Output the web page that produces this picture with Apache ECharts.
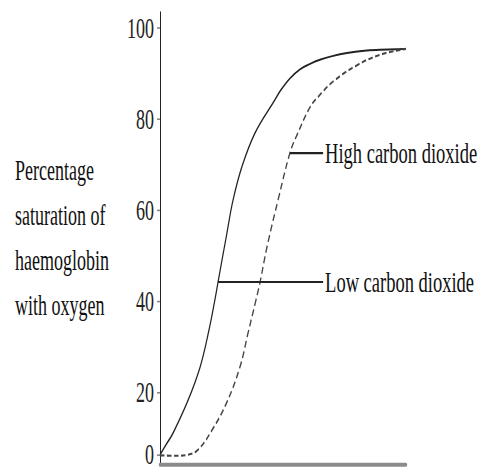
<!DOCTYPE html>
<html>
<head>
<meta charset="utf-8">
<script src="https://cdn.jsdelivr.net/npm/echarts@6/dist/echarts.min.js"></script>
<style>
  html, body { margin: 0; padding: 0; background: #fff; width: 485px; height: 469px; overflow: hidden; }
  #wrap { position: relative; width: 485px; height: 469px; overflow: hidden; }
  /* the reference is a vertically stretched scan, so stretch the drawing the same way */
  #chart { position: absolute; left: 0; top: 0; width: 485px; height: 300px; transform: scaleY(1.6); transform-origin: 0 0; }
</style>
</head>
<body>
<div id="wrap"><div id="chart"></div></div>
<script>
// level on the drawn axis where the "0" tick sits (the bottom of the picture is squeezed)
const ZERO_LEVEL = 6.3;

// [pO2 (arbitrary, no labels), % saturation]
const lowCo2Curve = [
  [0, 6.2], [2.4, 8.4], [5.3, 11.0], [11.4, 18.2], [16.3, 25.5], [19.9, 33.6],
  [22.4, 40.5], [23.6, 44.2], [27.2, 54.9], [29.7, 62.2], [33.3, 69.5],
  [38.6, 76.9], [46.7, 84.2], [48.8, 86.1], [52.8, 88.9], [56.9, 90.9],
  [61.0, 92.1], [65.0, 93.0], [70.0, 93.8], [76.0, 94.5], [83.0, 95.0],
  [89.4, 95.2], [100, 95.4]
];
const highCo2Curve = [
  [0, 6.1], [6.1, 6.0], [11.0, 6.2], [15.4, 7.3], [21.1, 11.6], [27.2, 17.8],
  [32.5, 25.5], [35.8, 33.0], [39.0, 40.2], [40.7, 44.2], [43.5, 51.9],
  [48.0, 62.2], [52.8, 72.5], [55.7, 76.5], [61.0, 82.6], [64.2, 84.8],
  [70.3, 88.2], [80.1, 91.8], [89.4, 94.1], [100, 95.4]
];

// leader lines from the curves to their labels
const highLabelLine = [[52.8, 72.5], [66.3, 72.5]];
const lowLabelLine = [[23.6, 44.2], [66.3, 44.2]];
const curveLabels = ['High carbon dioxide', 'Low carbon dioxide'];

const yTickValues = [ZERO_LEVEL, 20, 40, 60, 80, 100];
const yTickLabels = ['0', '20', '40', '60', '80', '100'];
const yAxisTitle = ['Percentage', 'saturation of', 'haemoglobin', 'with oxygen'];

(() => {
  const font = '"Liberation Serif", "DejaVu Serif", serif';
  const chart = echarts.init(document.getElementById('chart'), null, {renderer: 'svg'});

  function leader(data, text) {
    return {
      type: 'line',
      data: data,
      symbol: 'none',
      silent: true,
      lineStyle: {color: '#222', width: 1.3},
      endLabel: {
        show: true,
        formatter: text,
        distance: 2,
        fontFamily: font,
        fontSize: 18.5,
        color: '#111'
      }
    };
  }

  const option = {
    animation: false,
    backgroundColor: '#fff',
    grid: {
      left: 160,
      right: 79,
      top: 7.5,
      bottom: 10,
      outerBoundsMode: 'none'
    },
    xAxis: {
      type: 'value',
      min: 0,
      max: 100,
      axisLine: {onZero: false, lineStyle: {color: '#8c8c8c', width: 2.5}},
      axisTick: {show: false},
      axisLabel: {show: false},
      splitLine: {show: false}
    },
    yAxis: {
      type: 'value',
      min: 4.2,
      max: 103.5,
      name: yAxisTitle.join('\n'),
      nameLocation: 'middle',
      nameRotate: 0,
      nameGap: 145,
      nameTextStyle: {
        fontFamily: font,
        fontSize: 18,
        color: '#111',
        align: 'left',
        lineHeight: 28,
        padding: [0, 0, 14, 0]
      },
      axisLine: {show: true, lineStyle: {color: '#222', width: 1}},
      axisTick: {
        show: true,
        length: 3,
        customValues: yTickValues,
        lineStyle: {color: '#888'}
      },
      axisLabel: {
        customValues: yTickValues,
        margin: 6,
        fontFamily: font,
        fontSize: 18,
        color: '#222',
        formatter: v => yTickLabels[yTickValues.indexOf(v)]
      },
      splitLine: {show: false}
    },
    series: [
      {
        type: 'line',
        name: 'Low carbon dioxide',
        data: lowCo2Curve,
        symbol: 'none',
        smooth: 0.4,
        lineStyle: {color: '#222', width: 1.2}
      },
      {
        type: 'line',
        name: 'High carbon dioxide',
        data: highCo2Curve,
        symbol: 'none',
        smooth: 0.4,
        lineStyle: {color: '#444', width: 1.3, type: [4.5, 2.5]}
      },
      leader(highLabelLine, curveLabels[0]),
      leader(lowLabelLine, curveLabels[1])
    ]
  };

  chart.setOption(option);
})();
</script>
</body>
</html>
